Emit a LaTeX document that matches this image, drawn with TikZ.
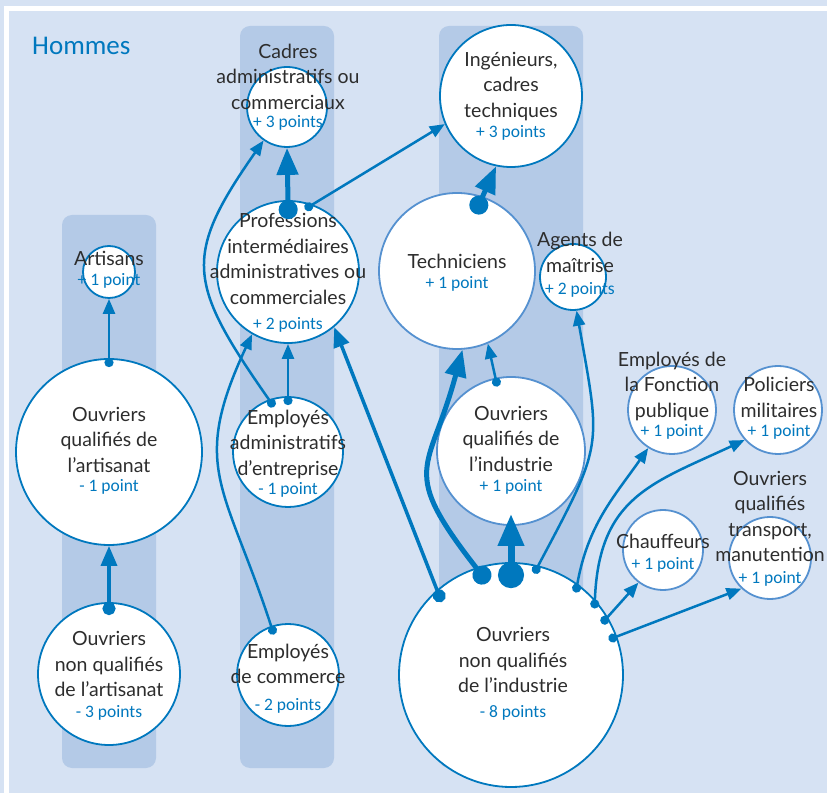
\documentclass[tikz,border=0pt]{standalone}
\usepackage{fontspec}
\setmainfont{Lato}
\newfontfamily\hfont{Carlito}
\usetikzlibrary{arrows.meta}
\definecolor{cblue}{RGB}{0,120,190}
\definecolor{lblue}{RGB}{85,145,208}
\definecolor{bgblue}{RGB}{214,226,243}
\definecolor{colblue}{RGB}{180,202,231}
\definecolor{tgray}{RGB}{45,45,45}
\newcommand{\pnt}[1]{{\color{cblue}\hfont\fontsize{17.5}{20}\selectfont #1}}

\begin{document}
\begin{tikzpicture}[x=1pt, y=1pt,
        dk/.style={circle, draw=cblue, fill=white, line width=1.8pt, inner sep=0pt},
        lt/.style={dk, draw=lblue},
        txt/.style={align=center, anchor=base, inner sep=0pt, text=tgray, font=\fontsize{19.5}{25.5}\selectfont},
        link/.style={draw=cblue, line cap=butt},
        smalllink/.style={link, line width=2.5pt, {Circle[length=9pt]}-{Triangle[length=15pt, width=12pt]}, shorten <=-9pt},
        midlink/.style={link, line width=3.5pt, {Circle[length=13pt]}-{Triangle[length=20pt, width=16pt]}, shorten <=-13pt},
        biglink/.style={link, line width=5pt, {Circle[length=19pt]}-{Triangle[length=27pt, width=21pt]}, shorten <=-19pt},
        hugelink/.style={link, line width=7pt, {Circle[length=26pt]}-{Triangle[length=32pt, width=25pt]}, shorten <=-26pt, shorten >=-12pt}]
        \useasboundingbox (0,0) rectangle (827,793);
        \fill[bgblue] (0,0) rectangle (827,793);
        \draw[white, line width=4.5pt] (6.5,0) |- (827,784.5);
        \fill[colblue, rounded corners=10pt] (62,25) rectangle (156,578);
        \fill[colblue, rounded corners=10pt] (240,25) rectangle (334,767);
        \fill[colblue, rounded corners=10pt] (439,25) rectangle (583,767);

        \node[anchor=base west, inner sep=0pt, text=cblue, font=\hfont\fontsize{27}{30}\selectfont] (title) at (32,738) {Hommes};

        \node[dk, minimum size=80pt] (Cad) at (287,686) {};
        \node[dk, minimum size=142pt] (Ing) at (511,697) {};
        \node[dk, minimum size=142pt] (Prof) at (288,521) {};
        \node[dk, minimum size=52pt] (Art) at (109,521) {};
        \node[lt, minimum size=156pt] (Tech) at (457,522) {};
        \node[dk, minimum size=66pt] (Agt) at (573,516) {};
        \node[dk, minimum size=186pt] (OQA) at (109,341) {};
        \node[dk, minimum size=142pt] (ONQA) at (109,119) {};
        \node[dk, minimum size=110pt] (EA) at (288,341) {};
        \node[dk, minimum size=102pt] (EC) at (288,118) {};
        \node[lt, minimum size=148pt] (OQI) at (511,342) {};
        \node[dk, minimum size=224pt] (ONQI) at (511,118) {};
        \node[lt, minimum size=88pt] (FP) at (672,383) {};
        \node[lt, minimum size=88pt] (Pol) at (778,383) {};
        \node[lt, minimum size=80pt] (Ch) at (663,243) {};
        \node[lt, minimum size=82pt] (OQT) at (770,235) {};

        \node[txt] (tCad) at (288,665) {Cadres\\administratifs ou\\commerciaux\\[-7pt]\pnt{+ 3 points}};
        \node[txt] (tIng) at (511,655) {Ingénieurs,\\cadres\\techniques\\[-5pt]\pnt{+ 3 points}};
        \node[txt] (tProf) at (288,463) {Professions\\intermédiaires\\administratives ou\\commerciales\\\pnt{+ 2 points}};
        \node[txt] (tArt) at (109,507) {Artisans\\[-5pt]\pnt{+ 1 point}};
        \node[txt] (tTech) at (457,504) {Techniciens\\[-5pt]\pnt{+ 1 point}};
        \node[txt] (tAgt) at (580,498) {Agents de\\maîtrise\\[-3pt]\pnt{+ 2 points}};
        \node[txt] (tOQA) at (109,301) {Ouvriers\\qualifiés de\\l’artisanat\\[-6pt]\pnt{- 1 point}};
        \node[txt] (tONQA) at (109,76) {Ouvriers\\non qualifiés\\de l’artisanat\\[-5pt]\pnt{- 3 points}};
        \node[txt] (tEA) at (288,298) {Employés\\administratifs\\d’entreprise\\[-6pt]\pnt{- 1 point}};
        \node[txt] (tEC) at (288,83) {Employés\\de commerce\\[1pt]\pnt{- 2 points}};
        \node[txt] (tOQI) at (511,301) {Ouvriers\\qualifiés de\\l’industrie\\[-5pt]\pnt{+ 1 point}};
        \node[txt] (tONQI) at (513,76) {Ouvriers\\non qualifiés\\de l’industrie\\[-1pt]\pnt{- 8 points}};
        \node[txt] (tFP) at (672,356) {Employés de\\la Fonction\\publique\\[-6pt]\pnt{+ 1 point}};
        \node[txt] (tPol) at (779,356) {Policiers\\militaires\\[-6pt]\pnt{+ 1 point}};
        \node[txt] (tCh) at (663,224) {Chauffeurs\\[-5pt]\pnt{+ 1 point}};
        \node[txt] (tOQT) at (770,210) {Ouvriers\\qualifiés\\transport,\\manutention\\[-4pt]\pnt{+ 1 point}};

        \draw[midlink] (ONQA.north) -- (OQA.south);
        \draw[smalllink] (OQA.north) -- (Art.south);
        \draw[biglink] (Prof.north) -- (Cad.south);
        \draw[smalllink] (Prof.70) -- (Ing.203);
        \draw[smalllink] (EA.north) -- (Prof.south);
        \draw[smalllink] (EA.110) to[out=125, in=235, looseness=1.4] (Cad.235);
        \draw[smalllink] (EC.109) to[out=108, in=245, looseness=1.3] (Prof.240);
        \draw[midlink] (ONQI.131) -- (Prof.310);
        \draw[biglink] (ONQI.108) to[out=128, in=255, looseness=1.5] (Tech.274);
        \draw[hugelink] (ONQI.north) -- (OQI.south);
        \draw[smalllink] (OQI.102) -- (Tech.293);
        \draw[biglink] (Tech.71) -- (Ing.258);
        \draw[smalllink] (ONQI.76) to[out=62, in=280, looseness=1.4] (Agt.276);
        \draw[smalllink] (ONQI.54) to[out=80, in=235] (FP.238);
        \draw[smalllink] (ONQI.42) to[out=88, in=205, looseness=1.2] (Pol.222);
        \draw[smalllink] (ONQI.31) -- (Ch.233);
        \draw[smalllink] (ONQI.20) -- (OQT.227);
\end{tikzpicture}
\end{document}
